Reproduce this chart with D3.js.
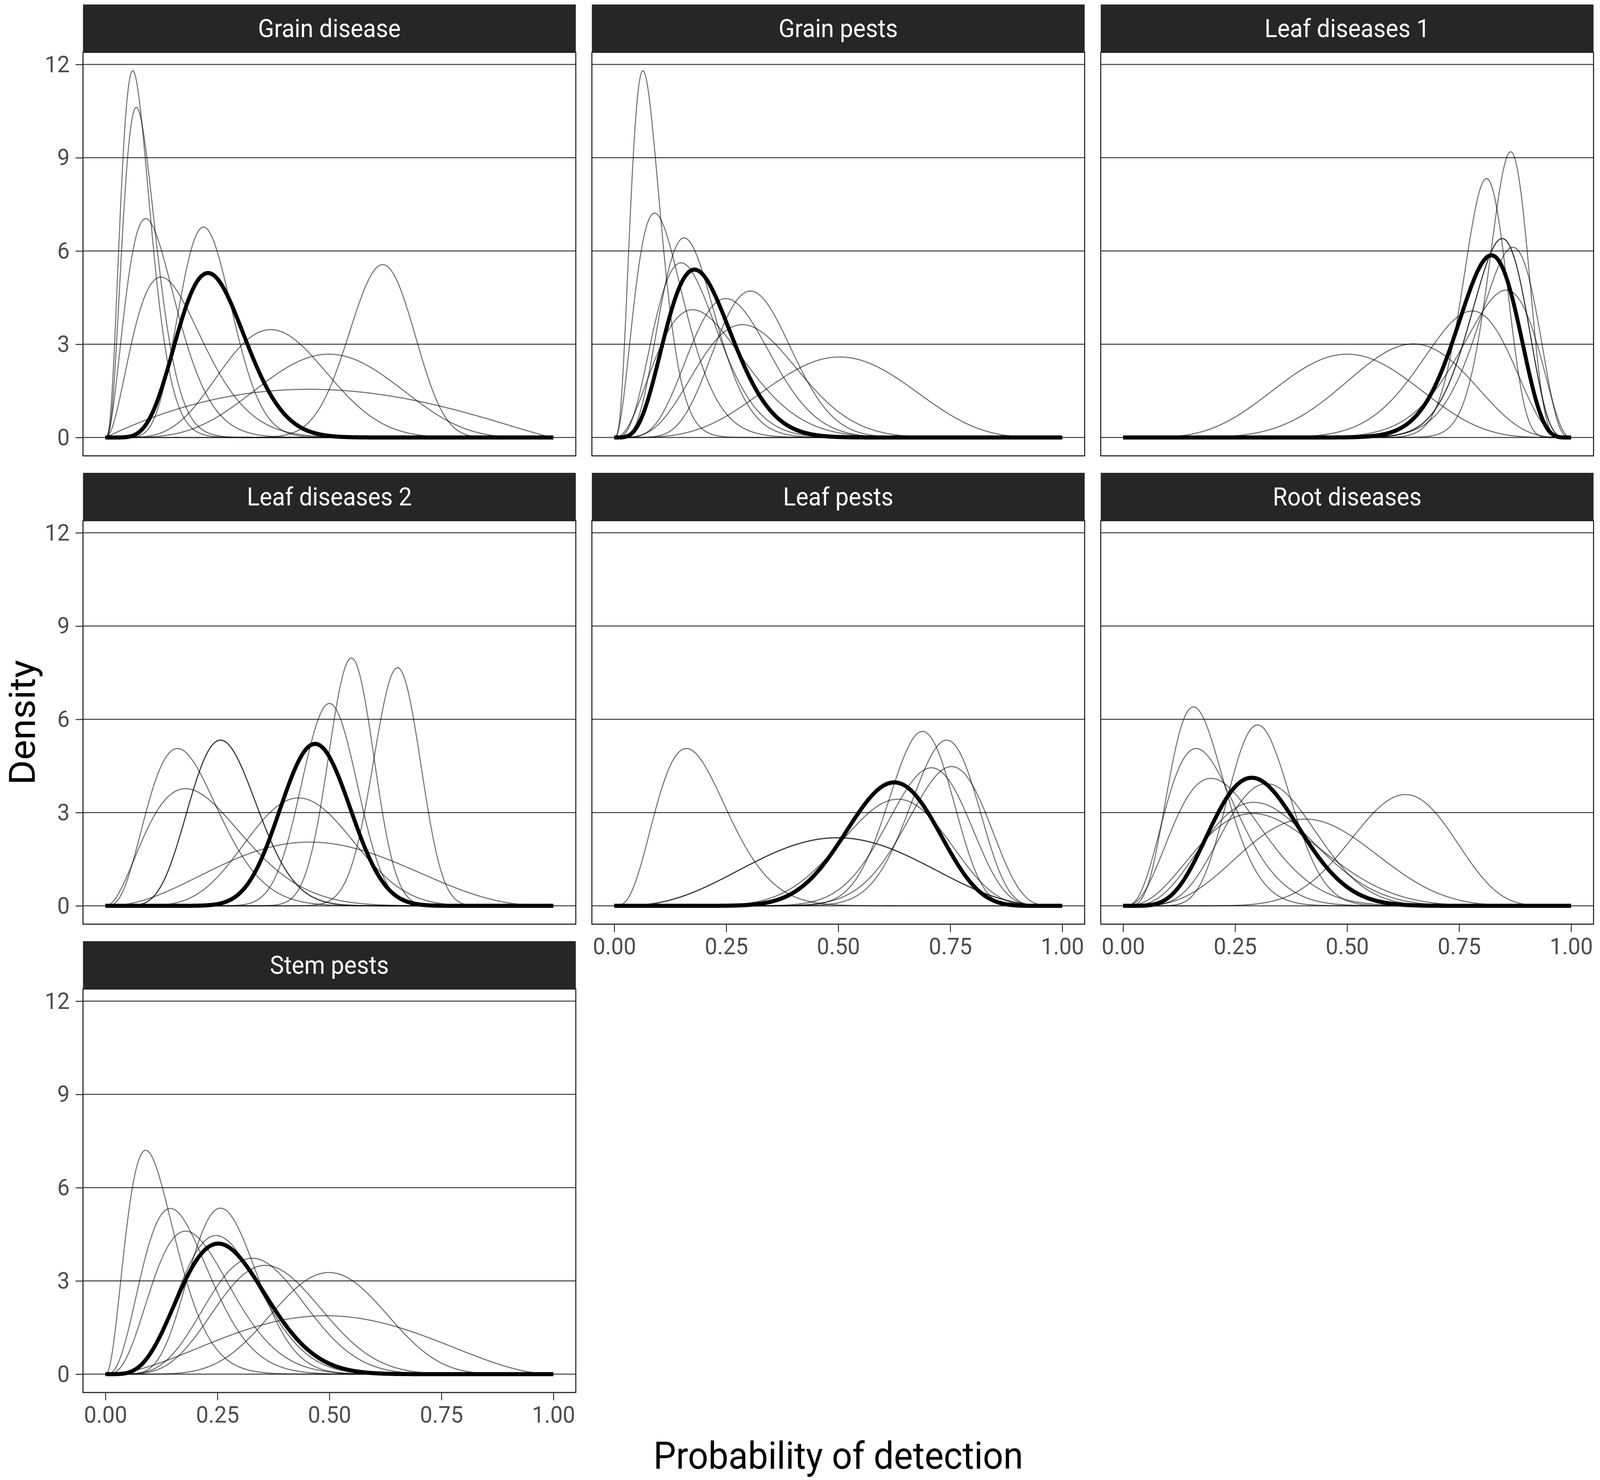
<!DOCTYPE html>
<html>
<head>
<meta charset="utf-8">
<script src="https://cdn.jsdelivr.net/npm/d3@7"></script>
<style>
html, body { margin: 0; padding: 0; background: #ffffff; overflow: hidden; }
svg { display: block; width: 100vw; height: 100vh; }
</style>
</head>
<body>
<svg id="chart" viewBox="0 0 4328 3789" preserveAspectRatio="none"></svg>
<script>
// ---------------- DATA ----------------
// Each curve is a beta density described by its mode (probability of detection
// at the peak) and its peak density, both.
const categories = ["Grain disease", "Grain pests", "Leaf diseases 1", "Leaf diseases 2",
                    "Leaf pests", "Root diseases", "Stem pests"];

// individual expert curves: [mode, peak density]
const grainDiseaseCurves  = [[0.061, 11.8], [0.069, 10.62], [0.090, 7.04], [0.124, 5.16], [0.219, 6.77],
                             [0.369, 3.47], [0.499, 2.68], [0.619, 5.56], [0.455, 1.55]];
const grainPestsCurves    = [[0.064, 11.8], [0.090, 7.22], [0.156, 6.42], [0.149, 5.62], [0.175, 4.11],
                             [0.249, 4.47], [0.304, 4.71], [0.286, 3.63], [0.503, 2.59]];
const leafDiseases1Curves = [[0.500, 2.68], [0.648, 3.01], [0.779, 4.07], [0.811, 8.33], [0.865, 9.19],
                             [0.846, 6.40], [0.846, 6.40], [0.870, 6.12], [0.855, 4.74]];
const leafDiseases2Curves = [[0.161, 5.06], [0.179, 3.77], [0.257, 5.33], [0.257, 5.33], [0.431, 3.47],
                             [0.456, 2.05], [0.500, 6.51], [0.549, 7.97], [0.652, 7.66]];
const leafPestsCurves     = [[0.161, 5.06], [0.498, 2.19], [0.498, 2.19], [0.633, 3.43], [0.688, 5.61],
                             [0.742, 5.33], [0.708, 4.44], [0.753, 4.48]];
const rootDiseasesCurves  = [[0.157, 6.40], [0.163, 5.06], [0.196, 4.10], [0.300, 5.82], [0.320, 3.93],
                             [0.292, 3.33], [0.289, 2.97], [0.407, 2.79], [0.630, 3.58]];
const stemPestsCurves     = [[0.090, 7.20], [0.145, 5.33], [0.179, 4.60], [0.257, 5.34], [0.247, 4.46],
                             [0.328, 3.73], [0.357, 3.50], [0.499, 3.27], [0.492, 1.88]];

// pooled (thick) curve per category: [mode, peak density]
const pooledCurves = [[0.229, 5.29], [0.179, 5.40], [0.822, 5.86], [0.468, 5.21],
                      [0.625, 3.97], [0.287, 4.12], [0.252, 4.20]];

const expertCurves = [grainDiseaseCurves, grainPestsCurves, leafDiseases1Curves, leafDiseases2Curves,
                      leafPestsCurves, rootDiseasesCurves, stemPestsCurves];

const yTickValues = [0, 3, 6, 9, 12];
const xTickValues = [0, 0.25, 0.5, 0.75, 1];
const xTickLabels = ["0.00", "0.25", "0.50", "0.75", "1.00"];
const xTitle = "Probability of detection";
const yTitle = "Density";

// ---------------- beta density helpers ----------------
function lgamma(z) {
  const g = 7;
  const c = [0.99999999999980993, 676.5203681218851, -1259.1392167224028, 771.32342877765313,
             -176.61502916214059, 12.507343278686905, -0.13857109526572012,
             9.9843695780195716e-6, 1.5056327351493116e-7];
  if (z < 0.5) return Math.log(Math.PI / Math.sin(Math.PI * z)) - lgamma(1 - z);
  z -= 1;
  let x = c[0];
  for (let i = 1; i < g + 2; i++) x += c[i] / (z + i);
  const t = z + g + 0.5;
  return 0.5 * Math.log(2 * Math.PI) + (z + 0.5) * Math.log(t) - t + Math.log(x);
}
function betaPdf(x, a, b) {
  if (x <= 0 || x >= 1) return 0;
  return Math.exp((a - 1) * Math.log(x) + (b - 1) * Math.log(1 - x)
                  - (lgamma(a) + lgamma(b) - lgamma(a + b)));
}
// find beta(a, b) with the given mode and peak height
function fitBeta(mode, peak) {
  let lo = 2.0001, hi = 50000, a = 1, b = 1;
  for (let i = 0; i < 120; i++) {
    const k = Math.sqrt(lo * hi);
    a = 1 + mode * (k - 2);
    b = 1 + (1 - mode) * (k - 2);
    if (betaPdf(mode, a, b) < peak) lo = k; else hi = k;
  }
  return { a, b };
}
const grid = d3.range(0, 801).map(i => i / 800);
function curvePoints(spec) {
  const p = fitBeta(spec[0], spec[1]);
  return grid.map(x => [x, betaPdf(x, p.a, p.b)]);
}

// ---------------- build series ----------------
const panels = categories.map((name, i) => ({
  name,
  thin: expertCurves[i].map(curvePoints),
  thick: curvePoints(pooledCurves[i])
}));
const yMax = d3.max(panels, p => d3.max([p.thick, ...p.thin], s => d3.max(s, d => d[1])));

// ---------------- layout ----------------
const panelW = 1333, panelH = 1033, stripH = 122.5, gapX = 43.5, gapY = 43.5;
const left0 = 224.5, top0 = 11.5;
const FONT = "Roboto, 'Liberation Sans', Arial, sans-serif";

const x = d3.scaleLinear().domain([-0.05, 1.05]).range([0, panelW]);
const y = d3.scaleLinear().domain([-0.05 * yMax, 1.05 * yMax]).range([panelH, 0]);
const line = d3.line().x(d => x(d[0])).y(d => y(d[1]));

const svg = d3.select("#chart");
svg.append("rect").attr("width", 4328).attr("height", 3789).attr("fill", "#ffffff");

const nCols = 3;
const bottomPanels = [6, 4, 5];

panels.forEach((p, i) => {
  const col = i % nCols, row = Math.floor(i / nCols);
  const px = left0 + col * (panelW + gapX);
  const stripTop = top0 + row * (stripH + panelH + gapY);
  const py = stripTop + stripH;

  // strip
  svg.append("rect").attr("x", px).attr("y", stripTop).attr("width", panelW).attr("height", stripH)
    .attr("fill", "#262626");
  svg.append("text").attr("x", px + panelW / 2).attr("y", stripTop + stripH / 2)
    .attr("text-anchor", "middle").attr("dominant-baseline", "central")
    .attr("font-family", FONT).attr("font-size", 64).attr("fill", "#ffffff")
    .text(p.name);

  const g = svg.append("g").attr("transform", `translate(${px},${py})`);
  g.append("rect").attr("width", panelW).attr("height", panelH).attr("fill", "#ffffff");

  // horizontal gridlines
  g.selectAll("line.grid").data(yTickValues).join("line").attr("class", "grid")
    .attr("x1", 0).attr("x2", panelW).attr("y1", d => y(d)).attr("y2", d => y(d))
    .attr("stroke", "#3a3a3a").attr("stroke-width", 2.6);

  const clipId = "clip" + i;
  g.append("clipPath").attr("id", clipId).append("rect").attr("width", panelW).attr("height", panelH);
  const cg = g.append("g").attr("clip-path", `url(#${clipId})`);

  cg.selectAll("path.thin").data(p.thin).join("path").attr("class", "thin")
    .attr("d", line).attr("fill", "none").attr("stroke", "#000000")
    .attr("stroke-opacity", 0.55).attr("stroke-width", 2.8).attr("stroke-linejoin", "round");
  cg.append("path").datum(p.thick).attr("d", line).attr("fill", "none")
    .attr("stroke", "#000000").attr("stroke-width", 10.5).attr("stroke-linejoin", "round")
    .attr("stroke-linecap", "butt");

  g.append("rect").attr("width", panelW).attr("height", panelH).attr("fill", "none")
    .attr("stroke", "#1e1e1e").attr("stroke-width", 2.8);

  // y axis on first column
  if (col === 0) {
    const ay = g.append("g").call(d3.axisLeft(y).tickValues(yTickValues).tickSize(20).tickPadding(16));
    ay.select(".domain").remove();
    ay.selectAll(".tick line").attr("stroke", "#333333").attr("stroke-width", 2.6);
    ay.selectAll(".tick text").attr("font-family", FONT).attr("font-size", 60).attr("fill", "#4d4d4d");
  }
  // x axis below bottom panel of each column
  if (bottomPanels.includes(i)) {
    const ax = g.append("g").attr("transform", `translate(0,${panelH})`)
      .call(d3.axisBottom(x).tickValues(xTickValues).tickFormat((d, k) => xTickLabels[k])
        .tickSize(20).tickPadding(14));
    ax.select(".domain").remove();
    ax.selectAll(".tick line").attr("stroke", "#333333").attr("stroke-width", 2.6);
    ax.selectAll(".tick text").attr("font-family", FONT).attr("font-size", 60).attr("fill", "#4d4d4d");
  }
});

// axis titles
const panelsLeft = left0, panelsRight = left0 + 3 * panelW + 2 * gapX;
const panelsTop = top0 + stripH, panelsBottom = top0 + 3 * (stripH + panelH) + 2 * gapY;
svg.append("text")
  .attr("transform", `translate(94,${(panelsTop + panelsBottom) / 2}) rotate(-90)`)
  .attr("text-anchor", "middle").attr("font-family", FONT).attr("font-size", 97).attr("fill", "#000000")
  .text(yTitle);
svg.append("text")
  .attr("x", (panelsLeft + panelsRight) / 2).attr("y", 3760)
  .attr("text-anchor", "middle").attr("font-family", FONT).attr("font-size", 97).attr("fill", "#000000")
  .text(xTitle);
</script>
</body>
</html>
